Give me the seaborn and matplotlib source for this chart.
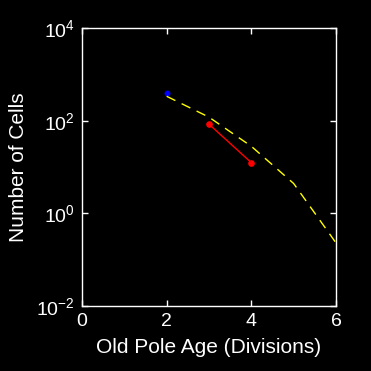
import matplotlib
matplotlib.use("Agg")
import matplotlib.pyplot as plt
import seaborn as sns
import pandas as pd
from matplotlib.ticker import NullLocator, FixedLocator

# Data
model_age = [2, 3, 4, 5, 6]
model_cells = [336, 119, 28, 4.4, 0.23]
red_age = [3, 4]
red_cells = [84, 12.4]
blue_age = [2]
blue_cells = [390]

xticks = [0, 2, 4, 6]
yticks = [1e-2, 1e0, 1e2, 1e4]

sns.set_style("white")
plt.rcParams['font.family'] = ['Liberation Sans', 'DejaVu Sans']
plt.rcParams['mathtext.fontset'] = 'custom'
plt.rcParams['mathtext.rm'] = 'Liberation Sans'
plt.rcParams['mathtext.it'] = 'Liberation Sans'

fig = plt.figure(figsize=(3.71, 3.71), dpi=100, facecolor='black')
ax = fig.add_axes([82/371, 1-306/371, (336-82)/371, (306-28)/371])
ax.set_facecolor('black')

dm = pd.DataFrame({'age': model_age, 'cells': model_cells})
dr = pd.DataFrame({'age': red_age, 'cells': red_cells})
db = pd.DataFrame({'age': blue_age, 'cells': blue_cells})

sns.lineplot(data=dm, x='age', y='cells', ax=ax, color='yellow',
             linewidth=1.0, dashes=False, linestyle=(0, (7, 5)))
sns.lineplot(data=dr, x='age', y='cells', ax=ax, color='red',
             linewidth=1.0, marker='o', markersize=4, markeredgecolor='red')
sns.scatterplot(data=db, x='age', y='cells', ax=ax, color='blue',
                s=14, edgecolor='blue', linewidth=0.5)

ax.set_yscale('log')
ax.set_xlim(0, 6)
ax.set_ylim(1e-2, 1e4)
ax.xaxis.set_major_locator(FixedLocator(xticks))
ax.yaxis.set_major_locator(FixedLocator(yticks))
ax.yaxis.set_minor_locator(NullLocator())
ax.xaxis.set_minor_locator(NullLocator())

for s in ax.spines.values():
    s.set_color('white')
    s.set_linewidth(1.0)
ax.tick_params(axis='both', which='major', direction='in', length=4,
               width=1, colors='white', labelcolor='white', labelsize=14,
               top=True, right=True, bottom=True, left=True, pad=5)
ax.set_xlabel('Old Pole Age (Divisions)', color='white', fontsize=15, labelpad=6)
ax.set_ylabel('Number of Cells', color='white', fontsize=15, labelpad=6)
ax.grid(False)

fig.savefig('out.png', dpi=100, facecolor='black')
